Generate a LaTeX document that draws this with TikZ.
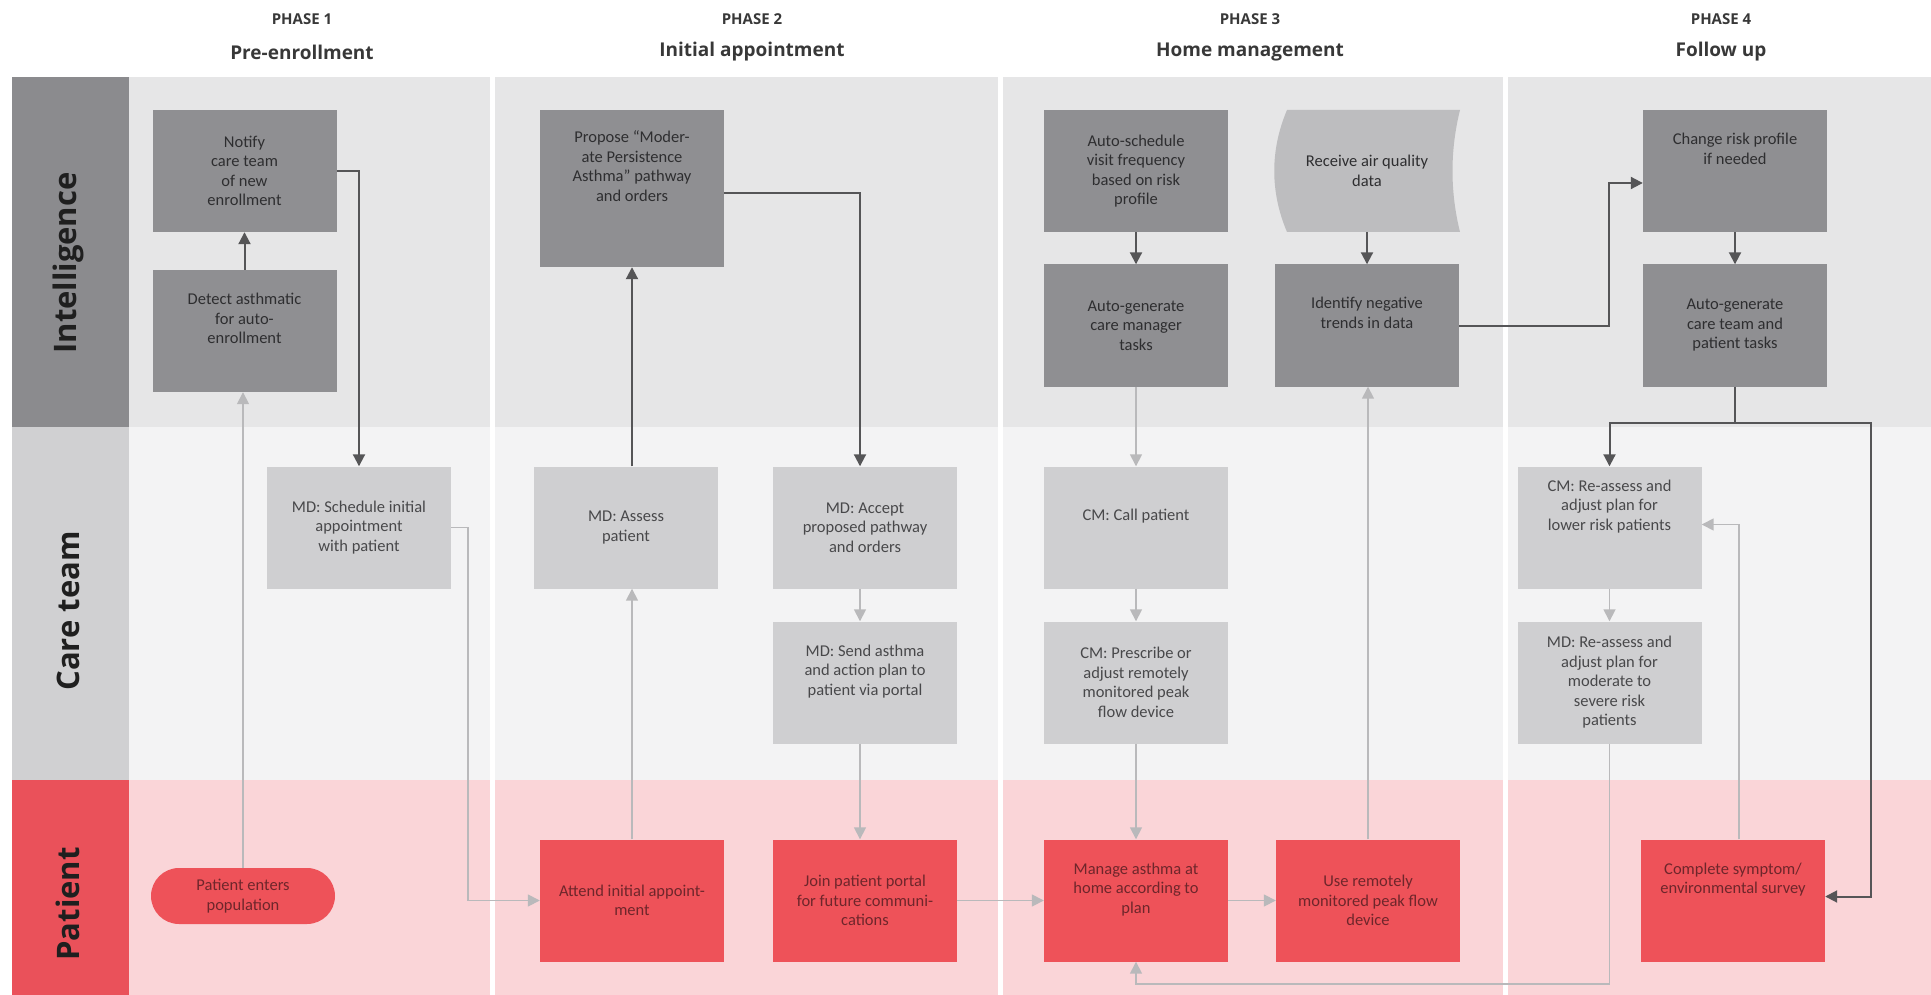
\documentclass[tikz,border=0pt]{standalone}
\usepackage{fontspec}
\setmainfont{Carlito}
\newfontfamily\headfont{Open Sans}
\usetikzlibrary{arrows.meta}

\definecolor{intelbg}{HTML}{E6E6E7}
\definecolor{carebg}{HTML}{F3F3F4}
\definecolor{patbg}{HTML}{FAD5D8}
\definecolor{intellabel}{HTML}{8B8B8E}
\definecolor{carelabel}{HTML}{D0D0D2}
\definecolor{patlabel}{HTML}{EA515A}
\definecolor{intelfill}{HTML}{8F8F92}
\definecolor{carefill}{HTML}{CFCFD1}
\definecolor{patfill}{HTML}{EE5259}
\definecolor{inteltext}{HTML}{2E2E30}
\definecolor{caretext}{HTML}{48484A}
\definecolor{pattext}{HTML}{6E262B}
\definecolor{datafill}{HTML}{BDBDBF}
\definecolor{darkline}{HTML}{555557}
\definecolor{lightline}{HTML}{B9B9BB}

\tikzset{
  flowbox/.style={minimum width=184pt, minimum height=122pt, inner sep=2pt,
    align=center, font=\fontsize{16.5}{19.5}\selectfont},
  intelbox/.style={flowbox, fill=intelfill, text=inteltext},
  carebox/.style={flowbox, fill=carefill, text=caretext},
  patbox/.style={flowbox, fill=patfill, text=pattext},
  darr/.style={draw=darkline, line width=2pt, -{Triangle[length=12pt,width=12pt]}},
  larr/.style={draw=lightline, line width=1.6pt, -{Triangle[length=12pt,width=12pt]}},
  lanelabel/.style={rotate=90, text=black!88,
    font=\headfont\bfseries\fontsize{31}{36}\selectfont},
  phasenum/.style={text=black!78, font=\headfont\bfseries\fontsize{15}{18}\selectfont},
  phasename/.style={text=black!78, font=\headfont\bfseries\fontsize{19}{23}\selectfont}
}

\begin{document}
\begin{tikzpicture}[x=1pt, y=-1pt]
\useasboundingbox (0,0) rectangle (1931,995);

% Lanes
\fill[intelbg] (129,77) rectangle (1931,427);
\fill[carebg] (129,427) rectangle (1931,780);
\fill[patbg] (129,780) rectangle (1931,995);
\fill[intellabel] (12,77) rectangle (129,427);
\fill[carelabel] (12,427) rectangle (129,780);
\fill[patlabel] (12,780) rectangle (129,995);
\foreach \x in {492,1000,1505}
  \draw[white, line width=5pt] (\x,77) -- (\x,995); % phase separators

\node[lanelabel] (intelligence) at (68,263) {Intelligence};
\node[lanelabel] (careteam) at (68,611) {Care team};
\node[lanelabel] (patient) at (68,904) {Patient};

% Phase titles
\foreach \x/\n/\t in {302/1/Pre-enrollment, 752/2/Initial appointment,
    1250/3/Home management, 1721/4/Follow up} {
  \node[phasenum] (phase\n) at (\x,19) {PHASE \n};
  \node[phasename] (title\n) at (\x,52) {\t};
}

% Intelligence
\node[intelbox] (notify) at (244.5,171) {Notify\\ care team\\ of new\\ enrollment};
\node[intelbox] (detect) at (244.5,331) {Detect asthmatic\\ for auto-\\ enrollment\\ \strut};
\node[intelbox, minimum height=157pt] (propose) at (632,188.5)
  {Propose “Moder-\\ ate Persistence\\ Asthma” pathway\\ and orders\\ \strut\\ \strut};
\node[intelbox] (autosched) at (1136,171) {Auto-schedule\\ visit frequency\\ based on risk\\ profile};
\node[intelbox] (autocm) at (1136,325.5) {Auto-generate\\ care manager\\ tasks};
\fill[datafill] (1287,110) -- (1460,110) .. controls (1450,150) and (1450,192) .. (1460,232)
  -- (1287,232) .. controls (1270,192) and (1270,150) .. (1287,110) -- cycle;
\node[flowbox, text=inteltext] (airdata) at (1367,171) {Receive air quality\\ data};
\node[intelbox] (identify) at (1367,325.5) {Identify negative\\ trends in data\\ \strut};
\node[intelbox] (changerisk) at (1735,171) {Change risk profile\\ if needed\\ \strut\\ \strut};
\node[intelbox] (autoteam) at (1735,325.5) {Auto-generate\\ care team and\\ patient tasks};

% Care team
\node[carebox] (schedule) at (359,527.5) {MD: Schedule initial\\ appointment\\ with patient};
\node[carebox] (assess) at (626,527.5) {MD: Assess\\ patient};
\node[carebox] (accept) at (865,527.5) {MD: Accept\\ proposed pathway\\ and orders};
\node[carebox] (sendplan) at (865,682.5) {MD: Send asthma\\ and action plan to\\ patient via portal\\ \strut};
\node[carebox] (callpat) at (1136,527.5) {CM: Call patient\\ \strut};
\node[carebox] (prescribe) at (1136,682.5) {CM: Prescribe or\\ adjust remotely\\ monitored peak\\ flow device};
\node[carebox] (reasslow) at (1609.5,527.5) {CM: Re-assess and\\ adjust plan for\\ lower risk patients\\ \strut\\ \strut};
\node[carebox] (reasshigh) at (1609.5,682.5) {MD: Re-assess and\\ adjust plan for\\ moderate to\\ severe risk\\ patients};

% Patient
\node[patbox, minimum height=56pt, rounded corners=28pt] (enters) at (243,896) {Patient enters\\ population};
\node[patbox] (attend) at (632,900.5) {Attend initial appoint-\\ ment};
\node[patbox] (joinportal) at (865,900.5) {Join patient portal\\ for future communi-\\ cations};
\node[patbox] (manage) at (1136,900.5) {Manage asthma at\\ home according to\\ plan\\ \strut};
\node[patbox] (usedevice) at (1368,900.5) {Use remotely\\ monitored peak flow\\ device};
\node[patbox] (survey) at (1733,900.5) {Complete symptom/\\ environmental survey\\ \strut\\ \strut};

% Dark connectors
\draw[darr] (detect) -- (notify);
\draw[darr] (notify.east) -| (schedule.north);
\draw[darr] (assess.north -| propose.south) -- (propose.south);
\draw[darr] ([yshift=-5pt]propose.east) -| ([xshift=-5pt]accept.north);
\draw[darr] (autosched) -- (autocm);
\draw[darr] (1367,232) -- (identify);
\draw[darr] (identify.east) -- ++(150,0) |- ([yshift=-12pt]changerisk.west);
\draw[darr] (changerisk) -- (autoteam);
\coordinate (fork) at (1735,423);
\coordinate (rail) at (1871,423);
\draw[draw=darkline, line width=2pt] (autoteam.south) -- (fork);
\draw[darr] (fork) -| (reasslow.north);
\draw[darr] (fork) -- (rail) |- ([yshift=4pt]survey.east);

% Light connectors
\draw[larr] (enters.north) -- (enters.north |- detect.south);
\draw[larr] (schedule.east) -- ++(17,0) |- (attend.west);
\draw[larr] (attend.north) -- (attend.north |- assess.south);
\draw[larr] ([xshift=-5pt]accept.south) -- ([xshift=-5pt]sendplan.north);
\draw[larr] ([xshift=-5pt]sendplan.south) -- ([xshift=-5pt]joinportal.north);
\draw[larr] (joinportal) -- (manage);
\draw[larr] (autocm) -- (callpat);
\draw[larr] (callpat) -- (prescribe);
\draw[larr] (prescribe) -- (manage);
\draw[larr] (manage) -- (usedevice);
\draw[larr] (usedevice.north) -- (usedevice.north |- identify.south);
\draw[larr] (reasslow) -- (reasshigh);
\draw[larr] ([xshift=6pt]survey.north) |- ([yshift=3pt]reasslow.east);
\draw[larr] (reasshigh.south) -- ++(0,240) -| (manage.south);

\end{tikzpicture}
\end{document}
